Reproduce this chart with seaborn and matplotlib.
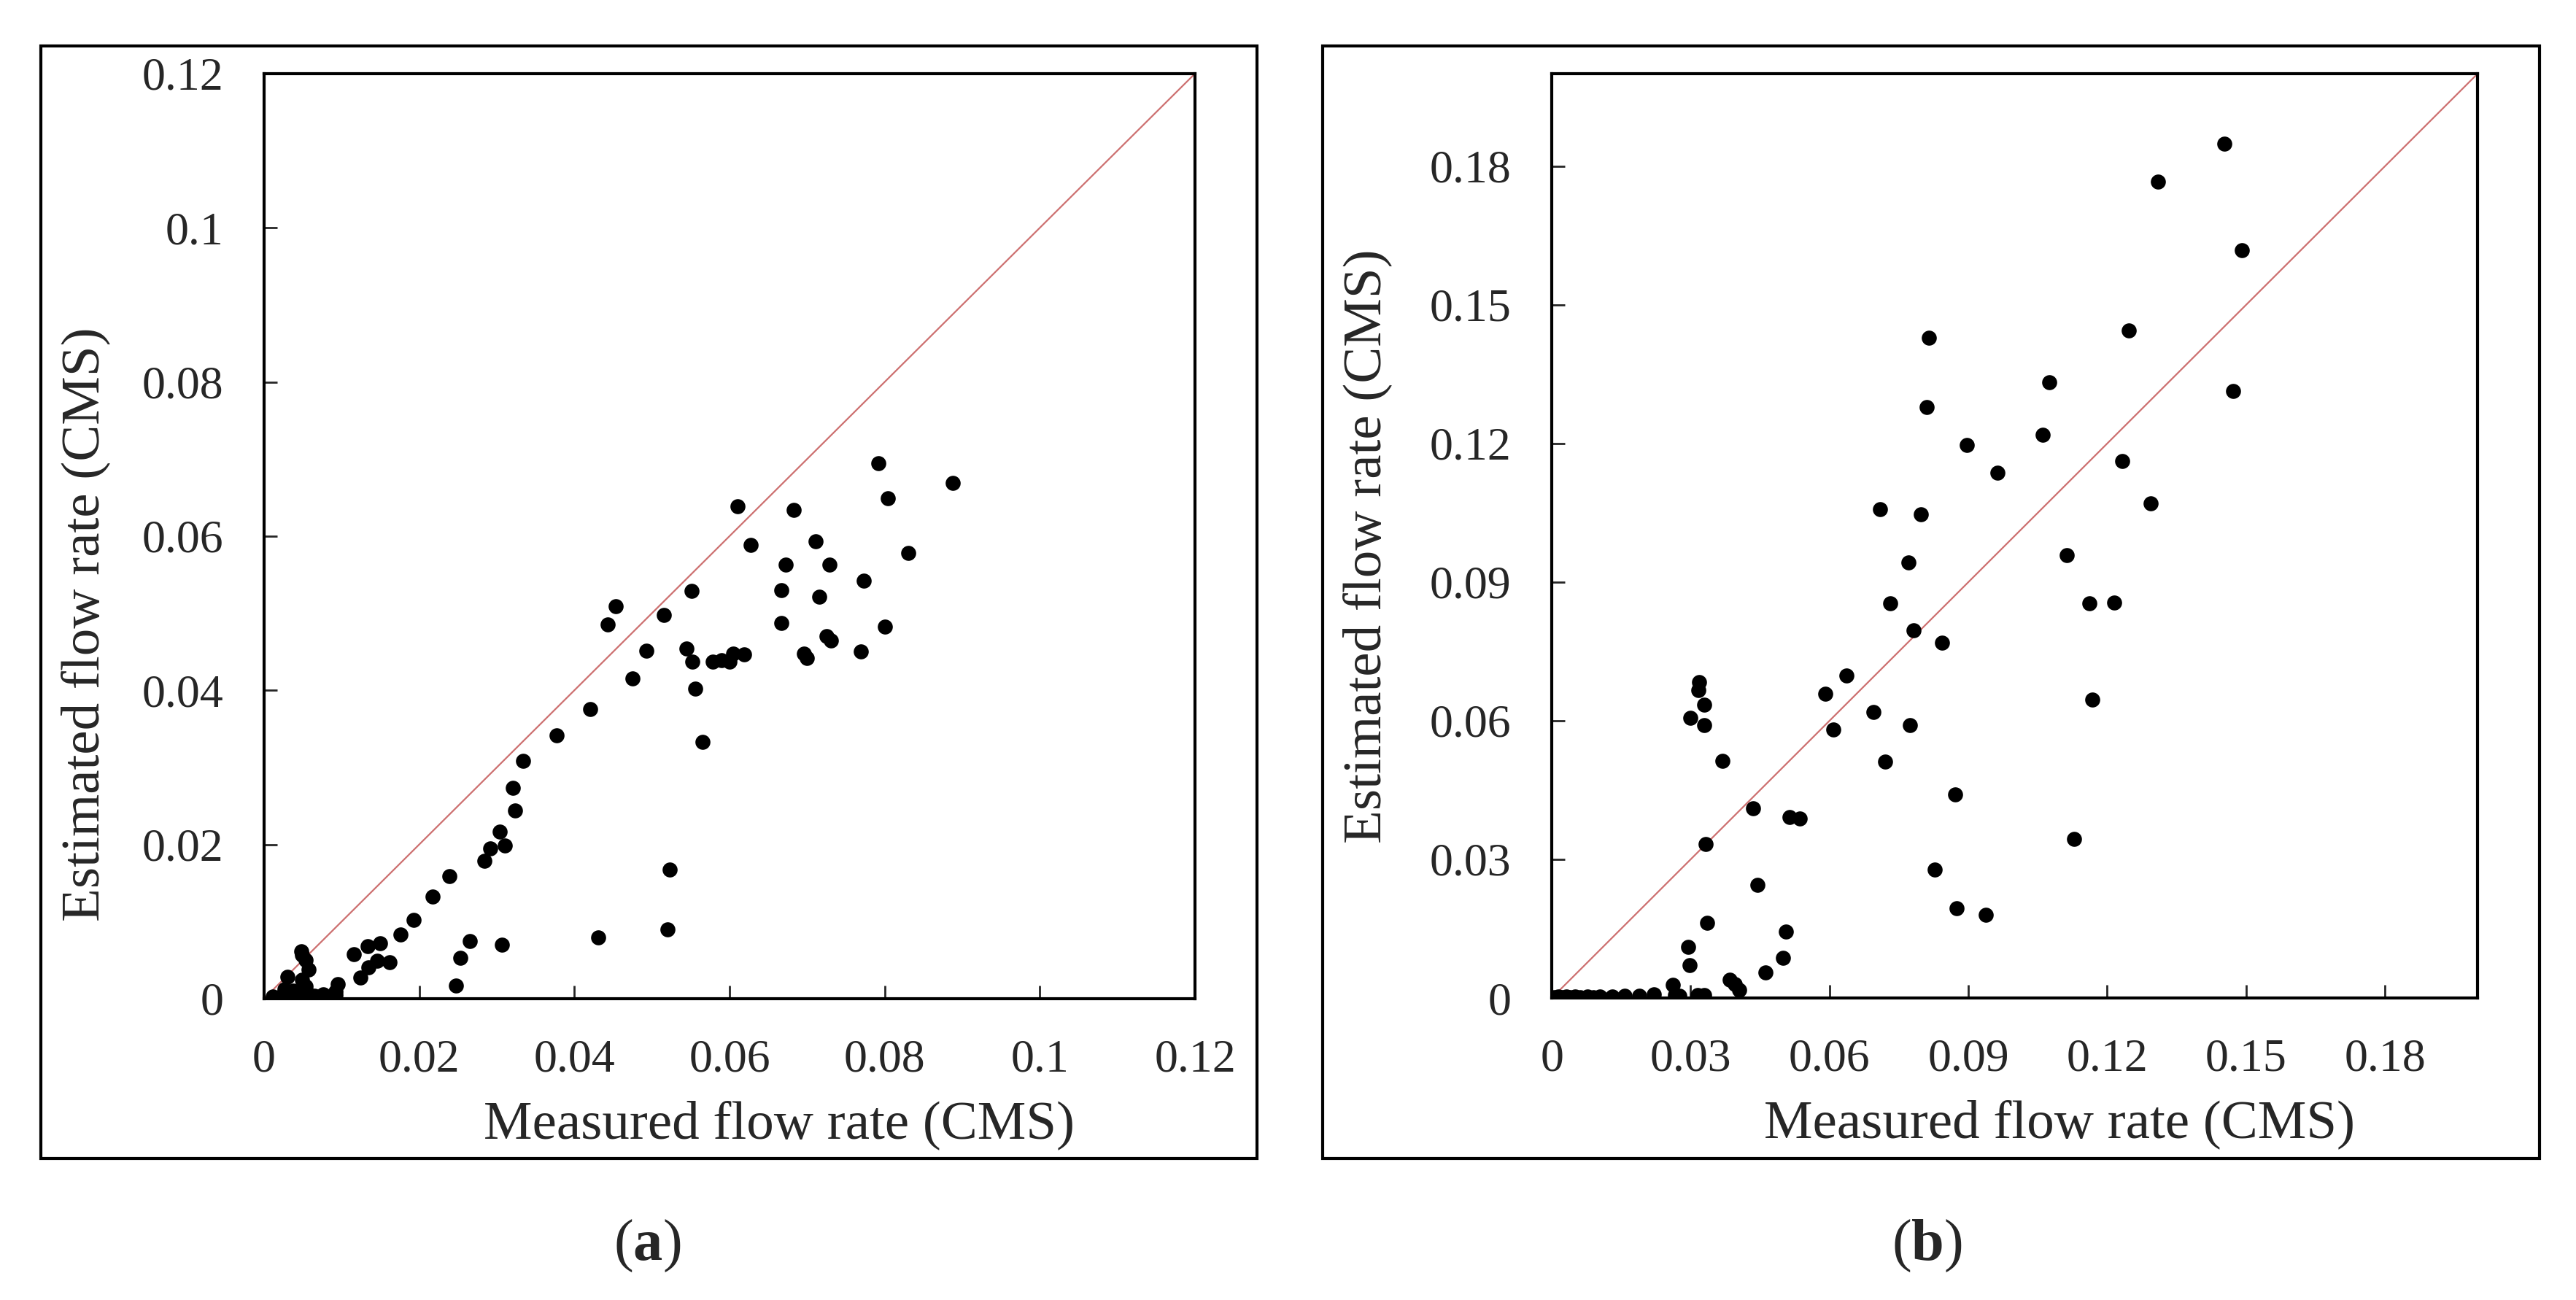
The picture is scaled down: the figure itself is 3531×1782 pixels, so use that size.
import numpy as np
import pandas as pd
import matplotlib
matplotlib.use("Agg")
import matplotlib.pyplot as plt
from matplotlib.patches import Rectangle
from matplotlib.ticker import FuncFormatter
import seaborn as sns

# (a) measured vs estimated flow rate
measured_a = [0.0048, 0.0049, 0.0054, 0.0057, 0.0030, 0.0049, 0.0054, 0.0011, 0.0022, 0.0032,
              0.0043, 0.0059, 0.0076, 0.0092, 0.0095, 0.0092, 0.0026, 0.0038, 0.0065, 0.0085,
              0.0116, 0.0134, 0.0150, 0.0124, 0.0135, 0.0146, 0.0162, 0.0176, 0.0193, 0.0217,
              0.0239, 0.0247, 0.0253, 0.0265, 0.0284, 0.0292, 0.0310, 0.0304, 0.0324, 0.0321,
              0.0334, 0.0307, 0.0377, 0.0420, 0.0431, 0.0475, 0.0523, 0.0520, 0.0556, 0.0565,
              0.0552, 0.0545, 0.0515, 0.0551, 0.0578, 0.0590, 0.0600, 0.0605, 0.0619, 0.0610,
              0.0627, 0.0667, 0.0667, 0.0672, 0.0683, 0.0696, 0.0700, 0.0711, 0.0716, 0.0729,
              0.0725, 0.0731, 0.0769, 0.0773, 0.0792, 0.0804, 0.0800, 0.0830, 0.0888, 0.0493,
              0.0453, 0.0443]
estimated_a = [0.0061, 0.0057, 0.0050, 0.0038, 0.0028, 0.0025, 0.0016, 0.0003, 0.0003, 0.0003,
               0.0006, 0.0005, 0.0006, 0.0009, 0.0019, 0.0005, 0.0012, 0.0010, 0.0004, 0.0003,
               0.0058, 0.0068, 0.0072, 0.0027, 0.0041, 0.0049, 0.0047, 0.0083, 0.0102, 0.0132,
               0.0159, 0.0017, 0.0053, 0.0075, 0.0179, 0.0195, 0.0199, 0.0217, 0.0244, 0.0273,
               0.0308, 0.0070, 0.0342, 0.0376, 0.0079, 0.0415, 0.0167, 0.0090, 0.0402, 0.0333,
               0.0437, 0.0454, 0.0498, 0.0529, 0.0437, 0.0439, 0.0437, 0.0448, 0.0447, 0.0639,
               0.0589, 0.0530, 0.0487, 0.0563, 0.0634, 0.0448, 0.0442, 0.0593, 0.0521, 0.0563,
               0.0470, 0.0465, 0.0450, 0.0542, 0.0695, 0.0649, 0.0483, 0.0578, 0.0669, 0.0451,
               0.0509, 0.0485]

# (b)
measured_b = [0.0005, 0.0014, 0.0022, 0.0032, 0.0040, 0.0050, 0.0062, 0.0077, 0.0090, 0.0104,
              0.0131, 0.0158, 0.0189, 0.0221, 0.0266, 0.0275, 0.0315, 0.0329,
              0.0261, 0.0385, 0.0396, 0.0405, 0.0461, 0.0297, 0.0295, 0.0499, 0.0505, 0.0336,
              0.0938, 0.0875, 0.0827, 0.0444, 0.1129, 0.0332, 0.0514, 0.0535, 0.0435, 0.0872,
              0.0368, 0.0300, 0.0330, 0.0330, 0.0316, 0.0319, 0.0720, 0.0609, 0.0774, 0.0695,
              0.1168, 0.0591, 0.0636, 0.0843, 0.0782,
              0.1453, 0.1310, 0.1490, 0.1247, 0.0814, 0.1074, 0.1472, 0.0810, 0.1061, 0.0897,
              0.0963, 0.1233, 0.0709, 0.0798, 0.1293, 0.0770, 0.1112, 0.0731, 0.1162, 0.1215]
estimated_b = [0.0002, 0.0003, 0.0002, 0.0003, 0.0002, 0.0003, 0.0002, 0.0003, 0.0002, 0.0004,
               0.0004, 0.0005, 0.0005, 0.0008, 0.0007, 0.0005, 0.0007, 0.0007,
               0.0028, 0.0039, 0.0030, 0.0018, 0.0055, 0.0071, 0.0110, 0.0087, 0.0143, 0.0162,
               0.0180, 0.0194, 0.0278, 0.0244, 0.0344, 0.0333, 0.0391, 0.0388, 0.0410, 0.0441,
               0.0513, 0.0606, 0.0590, 0.0634, 0.0666, 0.0683, 0.0511, 0.0581, 0.0590, 0.0619,
               0.0645, 0.0659, 0.0697, 0.0769, 0.0795,
               0.1849, 0.1767, 0.1618, 0.1444, 0.1428, 0.1332, 0.1313, 0.1279, 0.1219, 0.1196,
               0.1136, 0.1162, 0.1057, 0.1047, 0.1070, 0.0943, 0.0959, 0.0854, 0.0854, 0.0856]

ticks_a = [0, 0.02, 0.04, 0.06, 0.08, 0.1, 0.12]
ticks_b = [0, 0.03, 0.06, 0.09, 0.12, 0.15, 0.18]
lim_a = 0.12
lim_b = 0.2
panel_tags = ["a", "b"]

df_a = pd.DataFrame({"Measured": measured_a, "Estimated": estimated_a})
df_b = pd.DataFrame({"Measured": measured_b, "Estimated": estimated_b})

sns.set_style("white")
plt.rcParams["font.family"] = ["Liberation Serif", "DejaVu Serif"]
plt.rcParams["mathtext.fontset"] = "custom"
plt.rcParams["mathtext.rm"] = "Liberation Serif"
plt.rcParams["mathtext.bf"] = "Liberation Serif:bold"

fig = plt.figure(figsize=(35.31, 17.82), dpi=100)
ax_a = fig.add_axes([0.1025, 0.2318, 0.3614, 0.7116])
ax_b = fig.add_axes([0.6024, 0.2323, 0.3594, 0.7110])

# outer boxes round each panel
for left in [0.0159, 0.5135]:
    fig.add_artist(Rectangle((left, 0.1089), 0.4722, 0.8558, transform=fig.transFigure,
                             fill=False, edgecolor="black", linewidth=3))

fmt = FuncFormatter(lambda v, p: "%g" % round(v, 4))

for ax, df, ticks, lim, xl, yl, tag, tx in [
        (ax_a, df_a, ticks_a, lim_a, (0.553, 0.405), (-0.192, 0.405), panel_tags[0], 0.2512),
        (ax_b, df_b, ticks_b, lim_b, (0.548, 0.489), (-0.199, 0.489), panel_tags[1], 0.7482)]:
    ax.plot([0, lim], [0, lim], color="#CD7070", linewidth=1.6, zorder=1)
    sns.scatterplot(x="Measured", y="Estimated", data=df, ax=ax, color="black",
                    s=220, linewidth=0, zorder=2)
    ax.set_xlim(0, lim)
    ax.set_ylim(0, lim)
    ax.set_xticks(ticks)
    ax.set_yticks(ticks)
    ax.xaxis.set_major_formatter(fmt)
    ax.yaxis.set_major_formatter(fmt)
    ax.tick_params(direction="in", length=13, width=2, pad=40, labelsize=46,
                   bottom=True, left=True)
    for sp in ax.spines.values():
        sp.set_linewidth(3)
        sp.set_color("black")
    ax.set_xlabel("Measured flow rate (CMS)", fontsize=54)
    ax.set_ylabel("Estimated flow rate (CMS)", fontsize=54)
    ax.xaxis.label.set_va("center")
    ax.yaxis.label.set_va("center")
    ax.xaxis.set_label_coords(xl[0], -0.137)
    ax.yaxis.set_label_coords(yl[0], yl[1])
    fig.text(tx, 0.0415, "($\\mathbf{%s}$)" % tag, fontsize=58, ha="center", va="center")

plt.savefig("out.png", dpi=100)
